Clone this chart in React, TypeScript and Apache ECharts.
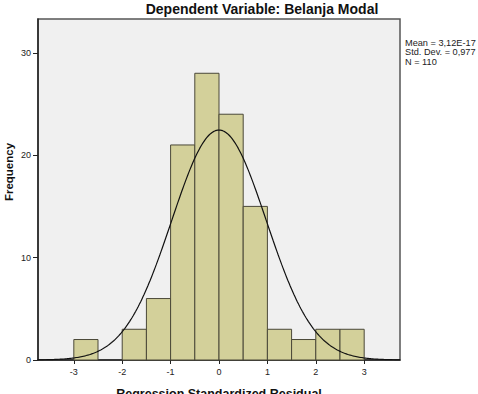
import React, { useEffect, useRef } from "react";
import * as echarts from "echarts";

// Histogram bins of the standardized residuals (lower edge, upper edge, count)
const binLower = [-3, -2.5, -2, -1.5, -1, -0.5, 0, 0.5, 1, 1.5, 2, 2.5];
const binUpper = [-2.5, -2, -1.5, -1, -0.5, 0, 0.5, 1, 1.5, 2, 2.5, 3];
const binCounts = [2, 0, 3, 6, 21, 28, 24, 15, 3, 2, 3, 3];

const xTicks = [-3, -2, -1, 0, 1, 2, 3];
const yTicks = [0, 10, 20, 30];

// Summary statistics shown beside the plot
const statMean = 3.12e-17;
const statStdDev = 0.977;
const statN = 110;
const statLines = ["Mean = 3,12E-17", "Std. Dev. = 0,977", "N = 110"];

const FONT = "'Liberation Sans', Arial, sans-serif";

// Fitted normal curve scaled to the histogram (N * bin width * density)
function normalCurve(): number[][] {
  const pts: number[][] = [];
  const width = 0.5;
  const scale = (statN * width) / (statStdDev * Math.sqrt(2 * Math.PI));
  for (let i = 0; i <= 300; i++) {
    const x = -3.74 + (7.48 * i) / 300;
    const z = (x - statMean) / statStdDev;
    pts.push([x, scale * Math.exp(-0.5 * z * z)]);
  }
  return pts;
}

export default function App() {
  const ref = useRef<HTMLDivElement>(null);

  useEffect(() => {
    if (!ref.current) return;
    const chart = echarts.init(ref.current, undefined, { renderer: "svg" });
    const bars = binLower.map((lo, i) => [lo, binUpper[i], binCounts[i]]);

    chart.setOption({
      animation: false,
      backgroundColor: "#ffffff",
      title: {
        text: "Dependent Variable: Belanja Modal",
        left: 262,
        top: 2,
        padding: 0,
        textAlign: "center",
        textStyle: { fontFamily: FONT, fontSize: 14, fontWeight: "bold", color: "#111" },
      },
      grid: {
        left: 38,
        right: 78,
        top: 19,
        bottom: 34,
        containLabel: false,
        outerBoundsMode: "none",
        show: true,
        backgroundColor: "#f0f0f0",
        borderColor: "#555",
        borderWidth: 1.5,
      },
      xAxis: {
        type: "value",
        min: -3.74,
        max: 3.74,
        name: "Regression Standardized Residual",
        nameLocation: "middle",
        nameGap: 27,
        nameTextStyle: { fontFamily: FONT, fontSize: 12.5, fontWeight: "bold", color: "#111" },
        axisLine: { show: true, onZero: false, lineStyle: { color: "#222", width: 1.5 } },
        axisTick: { show: true, length: 4, customValues: xTicks, lineStyle: { color: "#222" } },
        axisLabel: {
          customValues: xTicks,
          fontFamily: FONT,
          fontSize: 9,
          color: "#222",
          margin: 7,
        },
        splitLine: { show: false },
      },
      yAxis: {
        type: "value",
        min: 0,
        max: 33.3,
        axisLine: { show: true, onZero: false, lineStyle: { color: "#222", width: 1.5 } },
        axisTick: { show: true, length: 5, customValues: yTicks, lineStyle: { color: "#222" } },
        axisLabel: {
          customValues: yTicks,
          fontFamily: FONT,
          fontSize: 9,
          color: "#222",
          margin: 7,
        },
        splitLine: { show: false },
      },
      graphic: [
        {
          // vertical y-axis title
          type: "text",
          x: 9,
          y: 172,
          rotation: Math.PI / 2,
          style: {
            text: "Frequency",
            fontFamily: FONT,
            fontSize: 11.5,
            fontWeight: "bold",
            fill: "#111",
            align: "center",
            verticalAlign: "middle",
          },
        },
        {
          type: "text",
          left: 405,
          top: 38,
          style: {
            text: statLines.join("\n"),
            fontFamily: FONT,
            fontSize: 9.2,
            lineHeight: 9.5,
            fill: "#222",
          },
        },
      ],
      series: [
        {
          type: "custom",
          data: bars,
          encode: { x: [0, 1], y: 2 },
          renderItem: (params: any, api: any) => {
            const count = api.value(2);
            if (!count) return null;
            const p0 = api.coord([api.value(0), count]);
            const p1 = api.coord([api.value(1), 0]);
            return {
              type: "rect",
              shape: { x: p0[0], y: p0[1], width: p1[0] - p0[0], height: p1[1] - p0[1] },
              style: { fill: "#d3d09a", stroke: "#4a4838", lineWidth: 1 },
            };
          },
          z: 2,
        },
        {
          type: "line",
          data: normalCurve(),
          showSymbol: false,
          symbol: "none",
          lineStyle: { color: "#111", width: 1.2 },
          z: 3,
        },
      ],
    });

    return () => chart.dispose();
  }, []);

  return (
    <div
      ref={ref}
      style={{ position: "absolute", left: 0, top: 0, width: 478, height: 394 }}
    />
  );
}
